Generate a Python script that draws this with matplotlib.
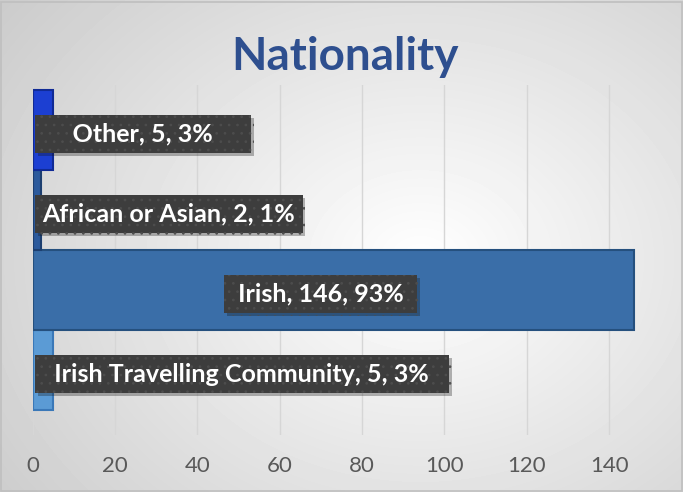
import numpy as np
import matplotlib
matplotlib.use("Agg")
import matplotlib.pyplot as plt
import matplotlib.patheffects as pe

categories = ["Irish Travelling Community", "Irish", "African or Asian", "Other"]
counts = [5, 146, 2, 5]
percents = [3, 93, 1, 3]
bar_colors = ["#5b9bd5", "#3a6ea8", "#2c5a9c", "#1c3fd2"]
edge_colors = ["#3a78b8", "#25507e", "#1d3f70", "#102a95"]
xticks = [0, 20, 40, 60, 80, 100, 120, 140]

# extra blank space either side of each label, like Excel's callout boxes
label_space = {"Irish Travelling Community": 2, "Irish": 1, "African or Asian": 0, "Other": 5}

plt.rcParams["font.family"] = ["Lato", "DejaVu Sans"]
plt.rcParams["hatch.linewidth"] = 0.7

fig = plt.figure(figsize=(6.83, 4.92), dpi=100)

# radial grey background
bg = fig.add_axes([0, 0, 1, 1], zorder=-10)
yy, xx = np.mgrid[0:492, 0:683]
r = np.sqrt(((xx - 420) / 520.0) ** 2 + ((yy - 260) / 420.0) ** 2)
shade = np.clip(1.0 - 0.2 * r, 0.8, 1.0)
bg.imshow(shade, cmap="gray", vmin=0, vmax=1, aspect="auto", extent=[0, 1, 0, 1])
bg.set_axis_off()
fig.patches.append(plt.Rectangle((0.002, 0.002), 0.996, 0.993, transform=fig.transFigure,
                                 fill=False, edgecolor="#bfbfbf", linewidth=1.2))

ax = fig.add_axes([0.048, 0.116, 0.904, 0.711])
ax.patch.set_alpha(0)
y = np.arange(len(categories))
ax.barh(y, counts, height=0.99, color=bar_colors, edgecolor=edge_colors, linewidth=1.5, zorder=3)

ax.set_xlim(0, 150)
ax.set_ylim(-0.81, 3.56)
ax.set_xticks(xticks)
ax.set_yticks([])
ax.grid(axis="x", color="#d6d6d6", linewidth=1.0, zorder=0)
ax.tick_params(axis="x", length=0, pad=15, labelsize=16, labelcolor="#595959")
for s in ax.spines.values():
    s.set_visible(False)

for i, (cat, c, p) in enumerate(zip(categories, counts, percents)):
    label = f"{cat}, {c}, {p}%"
    if c > 20:
        xpos, ha = c / 2 - 3, "center"
    else:
        xpos, ha = 2.3, "left"
    sp = " " * label_space[cat]
    t = ax.text(xpos, i - 0.05, sp + label + sp, ha=ha, va="center", color="white",
                fontsize=18, fontweight="bold", zorder=6,
                bbox=dict(boxstyle="square,pad=0.3", facecolor="#3d3d3d", edgecolor="#4d4d4d",
                          linewidth=0, hatch=".."))
    t.get_bbox_patch().set_path_effects([pe.SimplePatchShadow(offset=(2, -2), alpha=0.3), pe.Normal()])

fig.text(0.505, 0.885, "Nationality", ha="center", va="center", fontsize=33,
         fontweight="bold", color="#2e4f8f")

fig.savefig("out.png", dpi=100)
